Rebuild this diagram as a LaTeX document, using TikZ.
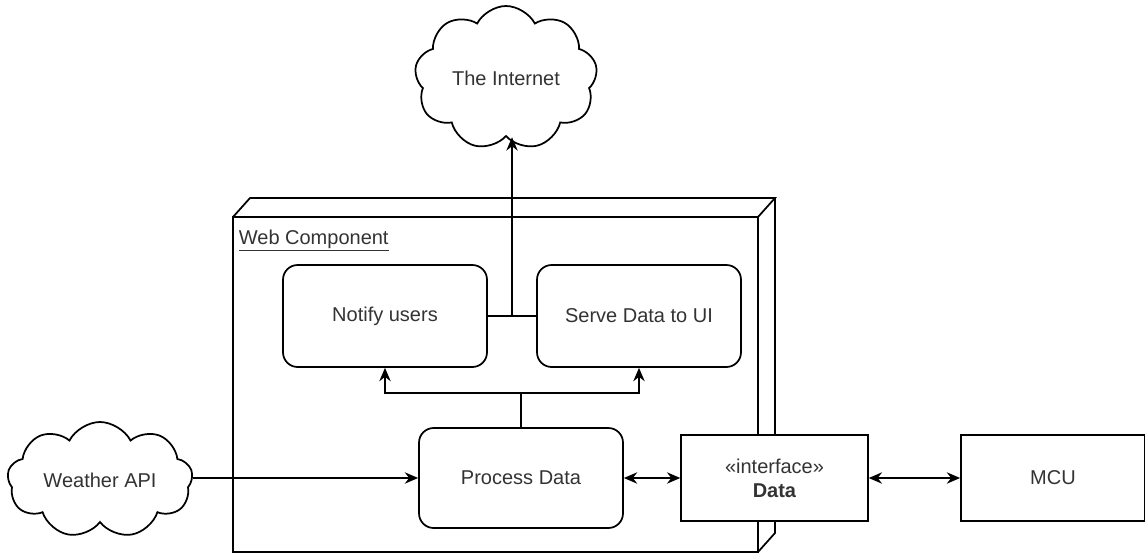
\documentclass[tikz,border=0pt]{standalone}
\usepackage{fontspec}
\setmainfont{Liberation Sans}
\usepackage{tikz}
\usetikzlibrary{arrows.meta, shapes.symbols, calc}

\tikzset{
  task/.style={draw, fill=white, rounded corners=11pt, inner sep=0pt,
    minimum width=153pt, minimum height=76.5pt},
  plainbox/.style={draw, fill=white, inner sep=0pt,
    minimum width=140pt, minimum height=64.5pt, align=center},
  cloudy/.style={cloud, draw, fill=white, cloud puffs=9, cloud puff arc=125,
    cloud ignores aspect, inner sep=0pt},
  link/.style={-{Stealth[length=10pt,width=8.5pt]}},
  twoway/.style={{Stealth[length=10pt,width=8.5pt]}-{Stealth[length=10pt,width=8.5pt]}},
}

\begin{document}
\begin{tikzpicture}[x=0.75pt, y=-0.75pt, line width=1.3pt,
    font=\fontsize{15}{18}\selectfont, text=black!80]
    \useasboundingbox (0,0) rectangle (1145,554);

    % Web component box with its depth
    \draw[fill=white] (233,217) rectangle (758,552);
    \draw (233,217) -- (250,198) -- (775,198) -- (758,217);
    \draw (758,552) -- (775,533) -- (775,198);
    \node[anchor=north west, inner sep=0pt] (webcomp) at (238,229) {\underline{Web Component}};

    % Clouds
    \node[cloudy, minimum width=137pt, minimum height=108pt] (internet) at (506,78) {The Internet};
    \node[cloudy, minimum width=139pt, minimum height=87pt] (weather) at (100,480) {Weather API};

    % Tasks inside the component
    \node[task] (notify) at (385,316) {Notify users};
    \node[task] (serve) at (639,316) {Serve Data to UI};
    \node[task, minimum height=75pt] (process) at (521,478) {Process Data};

    % Interface and MCU
    \node[plainbox] (iface) at (774.5,478) {«interface»\\\textbf{Data}};
    \node[plainbox, minimum width=138pt] (mcu) at (1053,478) {MCU};

    % Connectors
    \draw (notify.east) -- (serve.west);
    \coordinate (join) at ($(notify.east)!0.5!(serve.west)$);
    \draw[link] (join) -- (join |- internet.south);
    \draw (process.north) -- ++(0,-34) coordinate (split);
    \draw[link] (split) -| (notify.south);
    \draw[link] (split) -| (serve.south);
    \draw[link] (weather.east |- process.west) -- (process.west);
    \draw[twoway] (process.east) -- (process.east -| iface.west);
    \draw[twoway] (iface.east) -- (iface.east -| mcu.west);

\end{tikzpicture}
\end{document}
